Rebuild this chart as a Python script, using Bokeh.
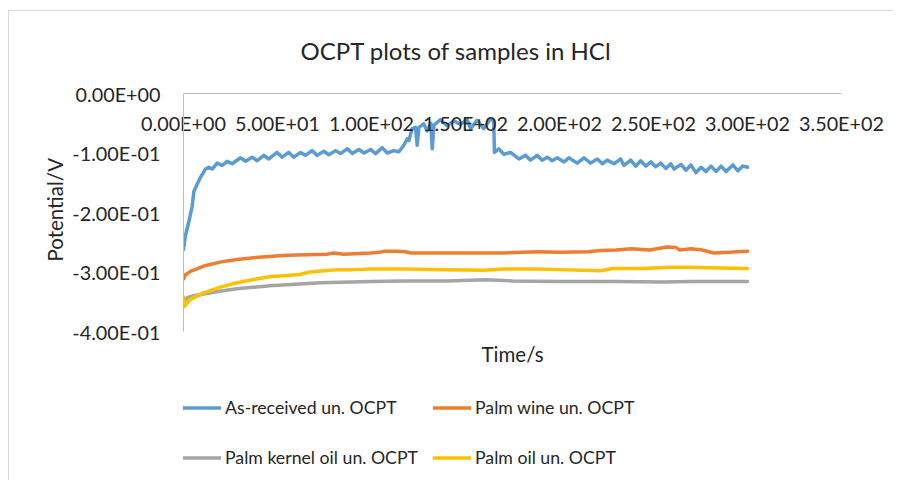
from bokeh.plotting import figure
from bokeh.models import (LinearAxis, Range1d, FixedTicker, CustomJSTickFormatter,
                          Legend, LegendItem, Label, Title)
from bokeh.embed import file_html
from bokeh.resources import INLINE

# ---------------- data ----------------
title_text = "OCPT plots of samples in HCl"
x_label = "Time/s"
y_label = "Potential/V"
x_ticks = [0, 50, 100, 150, 200, 250, 300, 350]
y_ticks = [0.0, -0.1, -0.2, -0.3, -0.4]

series_names = ["As-received un. OCPT", "Palm wine un. OCPT",
                "Palm kernel oil un. OCPT", "Palm oil un. OCPT"]
series_colors = ["#5B9BD5", "#ED7D31", "#A5A5A5", "#FFC000"]

t_asrec = [0, 1.0, 2.8, 4.6, 5.5, 7.3, 9.0, 11.7, 13.5, 15.3, 17.9, 20.6, 23.2, 25.9,
           30.3, 33.0, 36.5, 39.2, 42.7, 45.4, 49.8, 52.5, 56.0, 58.7, 62.2, 64.9, 68.4,
           71.1, 74.6, 77.3, 80.9, 83.5, 87.1, 89.8, 93.3, 96.0, 99.5, 102.2, 105.7,
           108.4, 111.9, 114.6, 117.2, 119.0, 119.9, 121.6, 123.4, 124.3, 125.2, 127.8,
           129.6, 131.5, 132.3, 133.2, 136.7, 140.2, 143.8, 147.3, 150.9, 152.7, 156.2,
           159.7, 163.3, 165.0, 165.4, 167.7, 170.4, 173.9, 178.4, 181.9, 184.6, 188.1,
           190.8, 193.5, 196.1, 198.8, 202.4, 205.0, 209.4, 213.0, 216.5, 220.1, 222.8,
           225.4, 229.0, 232.5, 234.3, 237.9, 240.5, 243.2, 245.9, 248.6, 251.2, 253.9,
           256.6, 259.2, 261.0, 264.6, 267.3, 269.9, 272.6, 275.3, 277.9, 280.6, 283.3,
           286.0, 288.6, 292.2, 294.9, 297.5, 300.0]
v_asrec = [-0.262, -0.239, -0.216, -0.190, -0.165, -0.152, -0.141, -0.127, -0.124, -0.127,
           -0.117, -0.121, -0.114, -0.118, -0.108, -0.114, -0.107, -0.113, -0.104, -0.110,
           -0.099, -0.107, -0.099, -0.107, -0.099, -0.104, -0.096, -0.104, -0.097, -0.103,
           -0.096, -0.101, -0.093, -0.101, -0.094, -0.100, -0.094, -0.101, -0.091, -0.100,
           -0.096, -0.098, -0.087, -0.076, -0.079, -0.059, -0.057, -0.087, -0.057, -0.051,
           -0.063, -0.050, -0.093, -0.053, -0.044, -0.054, -0.046, -0.052, -0.044, -0.059,
           -0.045, -0.059, -0.043, -0.045, -0.099, -0.093, -0.102, -0.099, -0.110, -0.104,
           -0.112, -0.104, -0.112, -0.107, -0.113, -0.108, -0.115, -0.108, -0.117, -0.108,
           -0.117, -0.110, -0.118, -0.112, -0.118, -0.110, -0.121, -0.112, -0.122, -0.113,
           -0.122, -0.115, -0.123, -0.117, -0.126, -0.118, -0.127, -0.119, -0.129, -0.120,
           -0.133, -0.124, -0.131, -0.122, -0.131, -0.122, -0.131, -0.120, -0.130, -0.122,
           -0.124]

t_wine = [0, 1.0, 3.7, 10.8, 20.0, 28.5, 40.0, 55.0, 76.0, 80.0, 85.0, 99.5, 104.0, 107.0,
          113.0, 118.0, 121.0, 140.0, 170.0, 188.0, 200.0, 215.0, 222.0, 230.0, 238.0,
          248.0, 257.0, 262.0, 264.0, 270.0, 276.0, 282.0, 290.0, 300.0]
v_wine = [-0.312, -0.305, -0.299, -0.290, -0.283, -0.279, -0.275, -0.272, -0.270, -0.268,
          -0.270, -0.268, -0.267, -0.265, -0.265, -0.266, -0.268, -0.268, -0.268, -0.266,
          -0.267, -0.266, -0.264, -0.263, -0.261, -0.263, -0.258, -0.259, -0.263, -0.261,
          -0.263, -0.268, -0.267, -0.265]

t_kernel = [0, 2.0, 5.0, 10.8, 20.0, 28.5, 46.0, 73.0, 100.0, 117.0, 140.0, 161.0, 175.0,
            200.0, 230.0, 255.0, 270.0, 300.0]
v_kernel = [-0.350, -0.343, -0.340, -0.337, -0.332, -0.328, -0.323, -0.318, -0.316, -0.315,
            -0.315, -0.313, -0.315, -0.316, -0.316, -0.317, -0.316, -0.316]

t_oil = [0, 0.5, 2.0, 3.7, 10.8, 20.0, 28.5, 40.0, 46.0, 55.0, 62.0, 67.0, 75.0, 82.0,
         90.0, 100.0, 117.0, 140.0, 160.0, 170.0, 188.0, 200.0, 222.0, 228.0, 245.0, 258.0,
         270.0, 280.0, 300.0]
v_oil = [-0.342, -0.358, -0.352, -0.346, -0.335, -0.325, -0.318, -0.311, -0.308, -0.306,
         -0.304, -0.300, -0.298, -0.296, -0.296, -0.295, -0.295, -0.296, -0.297, -0.295,
         -0.295, -0.296, -0.298, -0.294, -0.294, -0.292, -0.292, -0.293, -0.294]

series_t = [t_asrec, t_wine, t_kernel, t_oil]
series_v = [v_asrec, v_wine, v_kernel, v_oil]

# ---------------- style ----------------
FONT = "Lato"
TXT = "#262626"
AXIS_COLOR = "#BFBFBF"
TICK_FS = "19.8px"
AXTITLE_FS = "20.5px"
LEG_FS = "17.7px"

# axis domain: y from 0 down to -0.4 (the lower part of the frame holds the legend)
Y_AXIS_MIN, Y_AXIS_MAX = -0.4, 0.0
FRAME_Y_MIN = -0.6504          # keeps 0.1 V = 59.5 px with the legend below the curves

sci_fmt = CustomJSTickFormatter(code="""
const s = tick.toExponential(2);
const parts = s.split('e');
const sign = parts[1][0];
let d = parts[1].slice(1);
if (d.length < 2) { d = '0' + d; }
return parts[0] + 'E' + sign + d;
""")

chart_border = ("linear-gradient(#D9D9D9, #D9D9D9) 8px 10px / 100% 1px no-repeat, "
                "linear-gradient(#D9D9D9, #D9D9D9) 8px 10px / 1px 100% no-repeat, white")

p = figure(width=893, height=480, x_range=Range1d(0, 350),
           y_range=Range1d(FRAME_Y_MIN, Y_AXIS_MAX),
           output_backend="svg", toolbar_location=None,
           x_axis_location=None, y_axis_location=None,
           min_border_left=183, min_border_right=52, min_border_top=93,
           min_border_bottom=0,
           styles={"background": chart_border})
p.outline_line_color = None
p.background_fill_color = "white"
p.border_fill_color = None
p.xgrid.visible = False
p.ygrid.visible = False

# x axis along y = 0 (top edge of the plot), labels drawn below the line
xaxis = LinearAxis(ticker=FixedTicker(ticks=x_ticks), formatter=sci_fmt,
                   axis_line_color=AXIS_COLOR, axis_line_width=1,
                   major_tick_line_color=None, minor_tick_line_color=None,
                   major_tick_out=0, major_tick_in=0, minor_tick_out=0, minor_tick_in=0,
                   major_label_standoff=-41,
                   major_label_text_font=FONT, major_label_text_font_size=TICK_FS,
                   major_label_text_color=TXT)
p.add_layout(xaxis, "above")

p.title.text = title_text
p.title.text_font = FONT
p.title.text_font_size = "24px"
p.title.text_font_style = "normal"
p.title.text_color = TXT
p.title.align = "left"
p.title.offset = 117
p.title.standoff = 57

# y axis (left), drawn only over its own domain
yaxis = LinearAxis(ticker=FixedTicker(ticks=y_ticks), formatter=sci_fmt,
                   bounds=(Y_AXIS_MIN, Y_AXIS_MAX),
                   axis_line_color=AXIS_COLOR, axis_line_width=1,
                   major_tick_line_color=None, minor_tick_line_color=None,
                   major_tick_out=0, major_tick_in=0, minor_tick_out=0, minor_tick_in=0,
                   major_label_standoff=23,
                   major_label_text_font=FONT, major_label_text_font_size=TICK_FS,
                   major_label_text_color=TXT)
p.add_layout(yaxis, "left")

# y axis title, centred on the axis span (0 .. -0.4)
p.add_layout(Title(text=y_label, align="left", offset=219, standoff=6,
                   text_font=FONT, text_font_size=AXTITLE_FS, text_font_style="normal",
                   text_color=TXT), "left")

renderers = []
for t, v, c in zip(series_t, series_v, series_colors):
    r = p.line(t, v, line_color=c, line_width=3.5, line_join="round", line_cap="round")
    renderers.append(r)

# x axis title, centred under the axis span
x_mid = (x_ticks[0] + x_ticks[-1]) / 2
p.add_layout(Label(x=x_mid, y=Y_AXIS_MIN, y_offset=-22, text=x_label,
                   text_align="center", text_baseline="middle",
                   text_font=FONT, text_font_size=AXTITLE_FS, text_color=TXT))

legend = Legend(items=[LegendItem(label=n, renderers=[r]) for n, r in zip(series_names, renderers)],
                orientation="horizontal", ncols=2, location=(0, 5),
                border_line_color=None, background_fill_alpha=0,
                padding=0, margin=0, spacing=15, glyph_width=38, glyph_height=35,
                label_height=35, label_standoff=4,
                label_text_font=FONT, label_text_font_size=LEG_FS, label_text_color=TXT)
p.add_layout(legend, "center")

open("out.html", "w").write(file_html(p, INLINE))
